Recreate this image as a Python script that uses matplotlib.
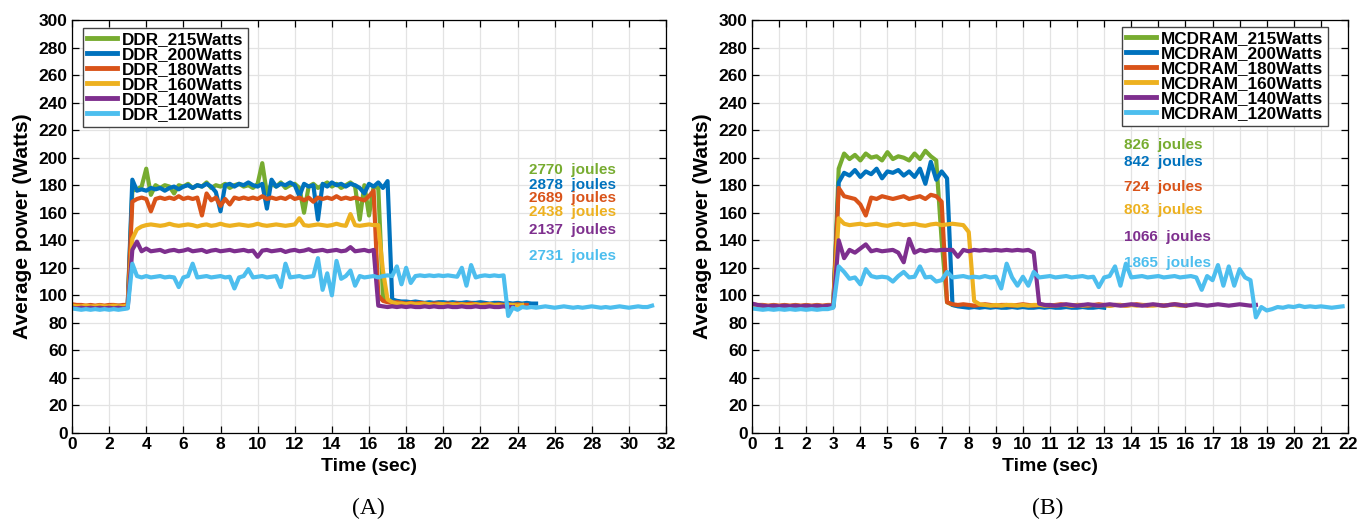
import numpy as np
import matplotlib
matplotlib.use("Agg")
import matplotlib.pyplot as plt

plt.rcParams['font.family'] = ['Liberation Sans', 'DejaVu Sans']
plt.rcParams['font.weight'] = 'bold'

colors = ['#77AC30', '#0072BD', '#D95319', '#EDB120', '#7E2F8E', '#4DBEEE']
watts = [215, 200, 180, 160, 140, 120]

# ---------------- (A) DDR, sampled every 0.25 s ----------------
dt_a = 0.25
ddr_pre = [
    [93, 92, 92.5, 92, 92.5, 92, 92.5, 92, 92.5, 92, 92.5, 92, 92.5],
    [92, 91.5, 92, 91.5, 92, 91.5, 92, 91.5, 92, 91.5, 92, 91.5, 92],
    [93.5, 93, 93, 92.5, 93, 92.5, 93, 92.5, 93, 93, 92.5, 93, 93],
    [92.5, 92, 92, 92.5, 92, 92, 92.5, 92, 92, 92.5, 92, 92, 92.5],
    [91, 90.5, 91, 90.5, 91, 90.5, 91, 90.5, 91, 90.5, 91, 90.5, 91],
    [90.5, 90, 89.5, 90, 89.5, 90, 89.5, 90, 89.5, 90, 89.5, 90, 90.5],
]
ddr_on = [
    [176, 177, 179, 192, 173, 180, 178, 180, 179, 174, 180, 179, 181, 178, 180,
     179, 182, 178, 180, 179, 181, 178, 180, 181, 179, 180, 178, 181, 196, 174,
     181, 179, 182, 178, 180, 181, 178, 160, 179, 181, 178, 180, 182, 179, 181,
     178, 180, 182, 179, 155, 180, 158, 179, 178],
    [184, 176, 177, 176, 178, 177, 178, 176, 178, 179, 177, 179, 180, 178, 180,
     179, 181, 179, 175, 161, 180, 181, 179, 181, 180, 182, 180, 179, 181, 163,
     184, 179, 181, 180, 182, 180, 172, 181, 179, 180, 155, 181, 179, 182, 180,
     181, 179, 181, 180, 178, 174, 181, 179, 182, 178, 183],
    [168, 170, 171, 170, 161, 170, 171, 170, 171, 170, 172, 170, 171, 170, 171,
     158, 174, 169, 171, 165, 170, 166, 171, 170, 171, 170, 171, 170, 172, 170,
     171, 170, 171, 170, 172, 170, 171, 169, 171, 168, 171, 170, 171, 170, 172,
     170, 171, 170, 171, 170, 169, 172, 176],
    [141, 148, 150, 151, 151.5, 151, 150.5, 151, 152, 151,
     150.5, 151, 151.5, 151, 150, 151, 151.5, 150.5, 151, 152,
     151, 150.5, 151, 151.5, 151, 150.5, 151, 152, 151, 150.5,
     151, 151.5, 151, 150.5, 151, 151.5, 156, 151, 150.5, 151,
     151.5, 151, 150.5, 151, 152, 151, 150.5, 159, 151, 150.5,
     151, 151.5, 151, 151],
    [133, 139, 132, 134, 132, 132.5, 133, 131.5, 132.5, 133,
     132, 132.5, 133.5, 132, 132.5, 133, 131.5, 132.5, 133, 132,
     132.5, 133, 132, 132.5, 133, 132, 132.5, 128, 132.5, 133,
     132, 132.5, 133, 131.5, 132.5, 133, 132, 132.5, 133.5, 132,
     132.5, 133, 132, 132.5, 133, 132, 132.5, 135, 132, 132.5,
     133, 132, 133],
    [123, 114, 113, 114, 113, 113.5, 114, 113, 113.5, 113,
     106, 113, 114, 123, 113, 113.5, 114, 113, 113.5, 114,
     113, 113.5, 105, 113, 114, 119, 113, 113.5, 114, 113,
     113.5, 114, 106, 123, 113, 113.5, 114, 113, 113.5, 114,
     127, 104, 116, 100, 125, 112, 114, 118, 107, 114,
     113, 113.5, 114, 113, 114, 114.5, 114, 121, 108, 120,
     109, 114, 114.5, 114, 114.5, 114, 114.5, 114, 114.5, 114,
     113.5, 120, 107, 122, 113, 114, 114.5, 114, 114.5, 114,
     114.5],
]
ddr_post = [
    [100, 95.5, 95, 94.5, 94, 94.5, 94, 93.5, 94, 93.5, 94, 93.5, 93.5, 94, 93.5,
     93, 93.5, 94, 93.5, 93, 93.5, 93.5, 93, 93.5, 93, 93.5, 93, 93.5, 93, 93.5],
    [97, 96, 95.5, 95.5, 95, 95.5, 95, 94.5, 95, 94.5, 95, 95, 94.5, 95, 94.5, 94.5,
     95, 94.5, 94.5, 95, 94.5, 94, 94.5, 94.5, 94, 94.5, 94, 94.5, 94, 94.5, 94, 94],
    [100, 96, 95, 94.5, 95, 94.5, 94, 94.5, 94, 94.5, 94, 93.5, 94, 94, 93.5, 94,
     93.5, 94, 93.5, 93.5, 94, 93.5, 93, 93.5, 93.5, 93, 93.5, 93, 93.5, 93, 93.5,
     93, 93],
    [118, 97, 95, 94, 94, 93.5, 94, 93.5, 93.5, 94, 93.5, 93, 93.5, 93.5, 93, 93.5,
     93, 93.5, 93, 93, 93.5, 93, 93, 93.5, 93, 93, 92.5, 93, 93, 92.5, 93],
    [92.5, 92, 91.5, 92, 91.5, 92, 91.5, 92, 91.5, 91.5, 92, 91.5, 92, 91.5, 91.5,
     92, 91.5, 91.5, 92, 91.5, 91.5, 92, 91.5, 91.5, 92, 91.5, 91.5, 92, 91.5, 91.5],
    [85, 91, 89.5, 91.5, 91, 91.5, 91, 91.5, 92, 91.5, 91, 91.5, 92, 91.5, 91, 91.5,
     91, 91.5, 92, 91.5, 91, 91.5, 91, 91.5, 92, 91.5, 91, 91.5, 92, 91.5, 91.5, 92.5],
]
ddr_joules = [2770, 2878, 2689, 2438, 2137, 2731]
ddr_note_y = [191, 180.5, 170.5, 160.5, 147.5, 128.5]

# ---------------- (B) MCDRAM, sampled every 0.2 s ----------------
dt_b = 0.2
mc_pre = [
    [92.5, 92, 92, 91.5, 92, 91.5, 92, 91.5, 92, 91.5, 92, 91.5, 92, 91.5, 92, 92],
    [92, 91.5, 91.5, 91, 91.5, 91, 91.5, 91, 91.5, 91, 91.5, 91, 91.5, 91, 91.5, 91.5],
    [93.5, 93, 93, 92.5, 93, 92.5, 93, 92.5, 93, 92.5, 93, 92.5, 93, 92.5, 93, 93],
    [93, 92.5, 92.5, 92, 92.5, 92, 92.5, 92, 92.5, 92, 92.5, 92, 92.5, 92, 92.5, 92.5],
    [94, 93, 92.5, 92, 92.5, 92, 92.5, 92, 92.5, 92, 92.5, 92, 92.5, 92, 92.5, 92.5],
    [90.5, 90, 89.5, 90, 89.5, 90, 89.5, 90, 89.5, 90, 89.5, 90, 89.5, 90, 90, 91],
]
mc_on = [
    [192, 203, 199, 202, 198, 203, 200, 201, 198, 204, 199, 201, 200, 198, 203,
     199, 205, 201, 198],
    [182, 189, 187, 191, 186, 190, 188, 192, 185, 190, 189, 191, 187, 190, 186,
     192, 181, 197, 184, 190, 185],
    [178, 172, 171, 170, 166, 158, 171, 170, 172, 171, 170, 171, 172, 170, 171,
     172, 170, 173, 172, 168],
    [156, 152, 151, 151.5, 152, 151, 151.5, 152, 151, 150.5, 151.5, 152, 151,
     151.5, 152, 151, 150.5, 151.5, 152, 151, 151.5, 152, 151.5, 151, 146],
    [140, 127, 133, 131, 134, 137, 132, 133, 132, 132.5, 133, 131, 124, 141, 131,
     133, 132, 133, 132.5, 133, 133, 133, 128, 133, 132, 133, 132.5, 133, 132.5,
     133, 132.5, 133, 132.5, 133, 132.5, 133, 131],
    [121, 117, 112, 113, 108, 119, 114, 113, 113.5, 113,
     110, 114, 117, 113, 113.5, 121, 113, 113.5, 110, 111,
     117, 113, 113.5, 114, 113, 113.5, 113, 114, 113, 113.5,
     105, 123, 113, 107, 113.5, 107, 117, 113, 113.5, 114,
     113, 113.5, 114, 113, 113.5, 114, 113, 113.5, 106, 113,
     114, 121, 107, 123, 113, 113.5, 114, 113, 113.5, 114,
     113, 113.5, 114, 113, 113.5, 114, 113, 104, 114, 111,
     122, 107, 121, 107, 119, 113, 111],
]
mc_post = [
    [140, 95, 93, 92.5, 92, 92.5, 92, 91.5, 92, 92.5, 92, 91.5, 92, 92, 91.5, 92,
     92.5, 92, 91.5, 92, 92, 91.5, 92, 92, 91.5, 92, 92, 91.5, 92, 92, 91.5],
    [93, 92, 91.5, 91, 91.5, 91, 91.5, 91, 91.5, 91, 91, 91.5, 91, 91.5, 91, 91,
     91.5, 91, 91.5, 91, 91, 91.5, 91, 91, 91.5, 91, 91, 91.5, 91],
    [95, 93.5, 93, 93.5, 93, 92.5, 93, 93.5, 93, 92.5, 93, 93, 92.5, 93, 93.5, 93,
     92.5, 93, 93, 92.5, 93, 93.5, 93, 92.5, 93, 93, 92.5, 93, 93.5, 93, 92.5, 93,
     93, 92.5, 93, 93.5, 93, 92.5, 93, 93, 92.5, 93, 93.5, 93, 92.5],
    [96, 93.5, 93, 92.5, 93, 92.5, 93, 93, 92.5, 93, 92.5, 93, 93, 92.5, 93, 92.5,
     93, 93, 92.5, 93, 92.5, 93, 93, 92.5, 93, 92.5, 93, 93, 92.5, 93, 92.5, 93,
     93, 92.5, 93, 92.5, 93, 93, 92.5, 93],
    [94, 93, 93, 92.5, 93, 93.5, 93, 92.5, 93, 93.5, 93, 92.5, 93, 93.5, 93, 92.5,
     93, 93.5, 93, 92.5, 93, 93.5, 93, 92.5, 93, 93.5, 93, 92.5, 93, 93.5, 93, 92.5,
     93, 93.5, 93, 92.5, 93, 93.5, 93, 92.5, 93],
    [84, 91.5, 89, 90, 91.5, 91, 92, 91.5, 92.5, 91.5, 92, 91.5, 92, 91.5, 91, 91.5, 92],
]
mc_joules = [826, 842, 724, 803, 1066, 1865]
mc_note_y = [209, 196.5, 178.5, 162, 142.5, 123.5]

fig = plt.figure(figsize=(13.59, 5.21), dpi=100)
ax1 = fig.add_axes([72 / 1359, 88 / 521, 594 / 1359, 413 / 521])
ax2 = fig.add_axes([752 / 1359, 88 / 521, 596 / 1359, 413 / 521])


def draw_panel(ax, dt, pre, on, post, prefix, joules, note_x, note_y,
               xmax, xstep, leg_loc, leg_anchor):
    for i in range(6):
        vals = pre[i] + on[i] + post[i]
        t = np.arange(len(vals)) * dt
        ax.plot(t, vals, color=colors[i], lw=3.0,
                label='%s_%dWatts' % (prefix, watts[i]))
    for i in range(6):
        ax.text(note_x, note_y[i], '%d  joules' % joules[i], color=colors[i],
                fontsize=11, fontweight='bold', ha='left', va='center')
    ax.set_xlim(0, xmax)
    ax.set_ylim(0, 300)
    ax.set_xticks(np.arange(0, xmax + 0.1, xstep))
    ax.set_yticks(np.arange(0, 301, 20))
    ax.grid(True, color='#e3e3e3', lw=0.9)
    ax.set_axisbelow(True)
    ax.tick_params(direction='in', top=True, right=True, length=5, width=0.9,
                   labelsize=12.5, pad=3)
    for s in ax.spines.values():
        s.set_linewidth(0.9)
    ax.set_xlabel('Time (sec)', fontsize=14, fontweight='bold', labelpad=4)
    ax.set_ylabel('Average power (Watts)', fontsize=15, fontweight='bold',
                  labelpad=5)
    leg = ax.legend(loc=leg_loc, bbox_to_anchor=leg_anchor, borderaxespad=0,
                    labelspacing=0.0, handlelength=1.75,
                    handletextpad=0.3, borderpad=0.25, fancybox=False,
                    framealpha=1, prop={'weight': 'bold', 'size': 12.3})
    leg.get_frame().set_edgecolor('#444444')
    leg.get_frame().set_linewidth(1.0)
    for line in leg.get_lines():
        line.set_linewidth(3.5)


draw_panel(ax1, dt_a, ddr_pre, ddr_on, ddr_post, 'DDR', ddr_joules, 24.6,
           ddr_note_y, 32, 2, 'upper left', (11 / 594, 1 - 8 / 413))
draw_panel(ax2, dt_b, mc_pre, mc_on, mc_post, 'MCDRAM', mc_joules, 13.75,
           mc_note_y, 22, 1, 'upper right', (1 - 20 / 596, 1 - 7 / 413))

fig.text(368 / 1359, 1 - 508 / 521, '(A)', family='Liberation Serif',
         fontweight='normal', fontsize=17, ha='center', va='center')
fig.text(1048 / 1359, 1 - 508 / 521, '(B)', family='Liberation Serif',
         fontweight='normal', fontsize=17, ha='center', va='center')

fig.savefig('out.png', dpi=100)
